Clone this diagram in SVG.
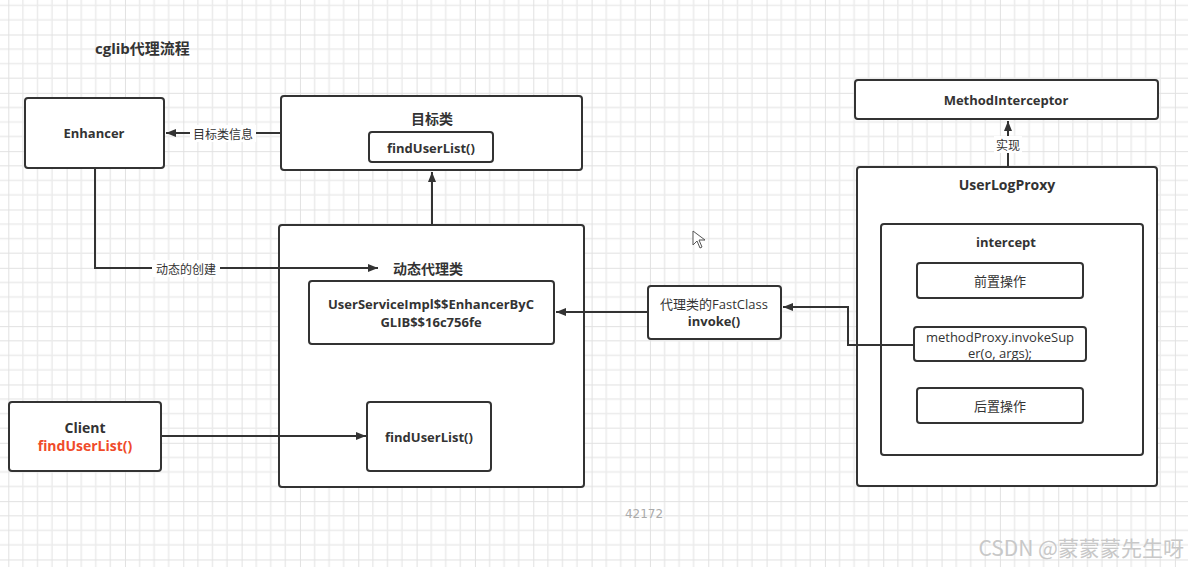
<svg xmlns="http://www.w3.org/2000/svg" width="1188" height="567" viewBox="0 0 1188 567">
<defs>
<pattern id="grid" patternUnits="userSpaceOnUse" x="8.3" y="34.5" width="58.33" height="58.33">
<path d="M14.58 0V58.33M29.17 0V58.33M43.75 0V58.33M0 14.58H58.33M0 29.17H58.33M0 43.75H58.33" stroke="#ebebeb" stroke-width="1.5" fill="none"/>
<path d="M0 0V58.33M0 0H58.33" stroke="#e1e1e1" stroke-width="2" fill="none"/>
</pattern>
<marker id="arr" viewBox="0 0 10 10" refX="10" refY="5" markerWidth="10" markerHeight="10" markerUnits="userSpaceOnUse" orient="auto">
<path d="M0 1L10 5L0 9Z" fill="#333"/>
</marker>
<style>
.box{fill:#fff;stroke:#333;stroke-width:2}
.t{font-family:"Open Sans","Noto Sans CJK SC",sans-serif;font-size:13px;fill:#333;text-anchor:middle;dominant-baseline:central}
.b{font-weight:bold}
.h{font-size:14px}
.lbl{font-family:"Noto Sans CJK SC","Open Sans",sans-serif;font-size:12px;fill:#333;text-anchor:middle;dominant-baseline:central}
.c{fill:none;stroke:#333;stroke-width:2}
</style>
</defs>
<rect width="1188" height="567" fill="#fff"/>
<rect width="1188" height="567" fill="url(#grid)"/>
<text x="95" y="48" class="t b" style="text-anchor:start;font-size:15px">cglib代理流程</text>

<g id="enhancer">
<rect class="box" x="25" y="98" width="139" height="70" rx="3"/>
<text x="94" y="133" class="t b">Enhancer</text>
</g>
<g id="target">
<rect class="box" x="281" y="96" width="301" height="74" rx="3"/>
<text x="432" y="118" class="t b h">目标类</text>
</g>
<g id="target-method">
<rect class="box" x="369" y="132" width="124" height="30" rx="3"/>
<text x="431" y="148" class="t b">findUserList()</text>
</g>
<g id="dynamic-proxy">
<rect class="box" x="279" y="225" width="305" height="262" rx="3"/>
<text x="428" y="268" class="t b h">动态代理类</text>
</g>
<g id="enhancer-class">
<rect class="box" x="309" y="281" width="245" height="63" rx="3"/>
<text x="431" y="304" class="t b">UserServiceImpl$$EnhancerByC</text>
<text x="431" y="322" class="t b">GLIB$$16c756fe</text>
</g>
<g id="proxy-method">
<rect class="box" x="367" y="402" width="124" height="69" rx="3"/>
<text x="429" y="437" class="t b">findUserList()</text>
</g>
<g id="client">
<rect class="box" x="9" y="402" width="152" height="69" rx="3"/>
<text x="85" y="427" class="t b" style="font-size:14px">Client</text>
<text x="85" y="445" class="t b" style="font-size:14px;fill:#f04b2a">findUserList()</text>
</g>
<g id="fastclass">
<rect class="box" x="648" y="286" width="133" height="53" rx="3"/>
<text x="714" y="304" class="t">代理类的FastClass</text>
<text x="714" y="321" class="t b">invoke()</text>
</g>
<g id="method-interceptor">
<rect class="box" x="855" y="80" width="303" height="39" rx="3"/>
<text x="1006" y="100" class="t b">MethodInterceptor</text>
</g>
<g id="user-log-proxy">
<rect class="box" x="857" y="167" width="300" height="319" rx="3"/>
<text x="1007" y="184" class="t b h">UserLogProxy</text>
</g>
<g id="intercept">
<rect class="box" x="881" y="224" width="262" height="231" rx="3"/>
<text x="1006" y="242" class="t b">intercept</text>
</g>
<g id="before">
<rect class="box" x="917" y="263" width="166" height="35" rx="3"/>
<text x="1000" y="281" class="t">前置操作</text>
</g>
<g id="invoke-super">
<rect class="box" x="914" y="327" width="172" height="34" rx="3"/>
<text x="1000" y="337" class="t">methodProxy.invokeSup</text>
<text x="1000" y="353" class="t">er(o, args);</text>
</g>
<g id="after">
<rect class="box" x="917" y="388" width="166" height="35" rx="3"/>
<text x="1000" y="406" class="t">后置操作</text>
</g>

<g id="connectors">
<path class="c" d="M281 133H166" marker-end="url(#arr)"/>
<rect x="190" y="125" width="66" height="17" fill="#fff"/>
<text x="223" y="133" class="lbl">目标类信息</text>
<path class="c" d="M432 225V172" marker-end="url(#arr)"/>
<path class="c" d="M95 168V268H378" marker-end="url(#arr)"/>
<rect x="152" y="260" width="68" height="17" fill="#fff"/>
<text x="186" y="268" class="lbl">动态的创建</text>
<path class="c" d="M161 436H366" marker-end="url(#arr)"/>
<path class="c" d="M648 312H556" marker-end="url(#arr)"/>
<path class="c" d="M914 345H848V307H783" marker-end="url(#arr)"/>
<path class="c" d="M1008 167V121" marker-end="url(#arr)"/>
<rect x="994" y="136" width="28" height="17" fill="#fff"/>
<text x="1008" y="144" class="lbl">实现</text>
</g>

<path d="M693 231V245L697 241L700 248L702 247L699 240L705 240Z" fill="#fff" stroke="#555" stroke-width="1"/>
<text x="644" y="514" class="t" style="fill:#aaa;font-family:'DejaVu Sans',sans-serif;font-size:12px">42172</text>
<text x="1184" y="547" style="font-family:'Noto Sans CJK SC',sans-serif;font-size:21px;fill:#c8c8c8;text-anchor:end;dominant-baseline:central">CSDN @蒙蒙蒙先生呀</text>
</svg>
